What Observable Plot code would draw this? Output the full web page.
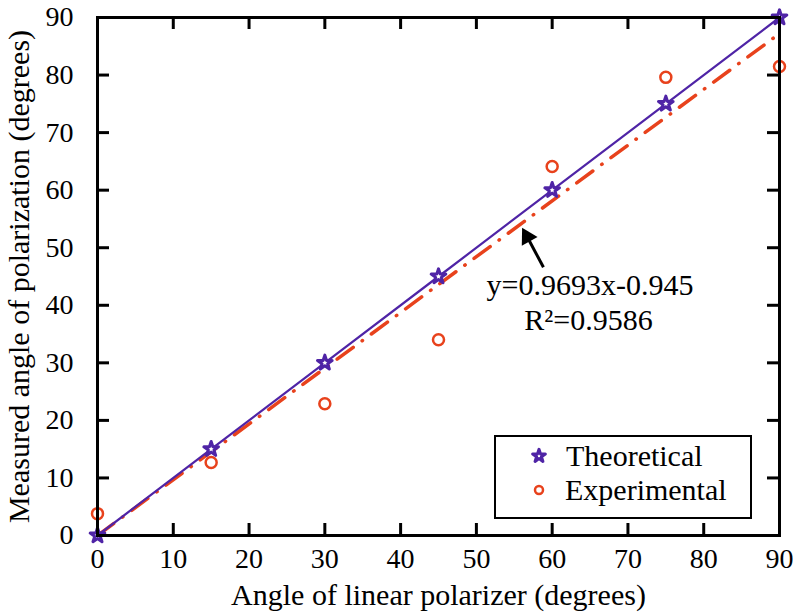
<!DOCTYPE html>
<html><head><meta charset="utf-8">
<script src="https://cdn.jsdelivr.net/npm/d3@7"></script>
<script src="https://cdn.jsdelivr.net/npm/@observablehq/plot@0.6"></script>
<style>
body{margin:0;background:#fff;}
#wrap{position:relative;width:793px;height:615px;}
#wrap svg text{font-family:'Liberation Serif','Times New Roman','DejaVu Serif',serif !important;}
#legend{position:absolute;left:494px;top:435px;width:254px;height:80px;border:2px solid #000;background:#fff;}
</style></head><body><div id="wrap"></div>
<script>
const angles = [0, 15, 30, 45, 60, 75, 90];
const theoretical = [0, 15, 30, 45, 60, 75, 90];
const experimental = [3.8, 12.7, 22.9, 34.0, 64.1, 79.6, 81.5];
const fitX = [0, 90];
const fitY = [0, 87.2];
const xTicks = [0, 10, 20, 30, 40, 50, 60, 70, 80, 90];
const yTicks = [0, 10, 20, 30, 40, 50, 60, 70, 80, 90];
const eqText = ["y=0.9693x-0.945", "R\u00B2=0.9586"];
const eqX = [65.0, 64.8];
const eqY = [43.5, 37.3];
const arrowTail = [58.85, 46.6];
const arrowHead = [56.7, 51.9];
const seriesNames = ["Theoretical", "Experimental"];

const purple = "#4f24a6";
const orange = "#e8421c";
const font = "'Liberation Serif','Times New Roman','DejaVu Serif',serif";

const table = angles.map((a, i) => ({angle: a, theo: theoretical[i], exp: experimental[i]}));
const fit = fitX.map((x, i) => ({x, y: fitY[i]}));
const eq = eqText.map((t, i) => ({t, x: eqX[i], y: eqY[i]}));

const plotW = 793 - 97 - 14, plotH = 615 - 17 - 80;

const chart = Plot.plot({
  width: 793, height: 615,
  marginLeft: 97, marginRight: 14, marginTop: 17, marginBottom: 80,
  x: {domain: [0, 90]},
  y: {domain: [0, 90]},
  style: {color: "#000", background: "#fff"},
  marks: [
    Plot.line(fit, {x: "x", y: "y", stroke: orange, strokeWidth: 3.5, strokeDasharray: "20,11,0.5,11", strokeLinecap: "round", clip: true}),
    Plot.line(table, {x: "angle", y: "theo", stroke: purple, strokeWidth: 2.2}),
    Plot.dot(table, {x: "angle", y: "exp", r: 5.5, stroke: orange, strokeWidth: 2.5, fill: "none"}),
    Plot.dot(table, {x: "angle", y: "theo", symbol: "star", r: 4.6, stroke: purple, strokeWidth: 3, fill: "#fff", strokeLinejoin: "round"}),
    Plot.link([0], {x1: () => arrowTail[0], y1: () => arrowTail[1], x2: () => arrowHead[0], y2: () => arrowHead[1], stroke: "#000", strokeWidth: 3}),
    Plot.dot([0], {x: () => arrowHead[0], y: () => arrowHead[1], symbol: "triangle", r: 6.7, fill: "#000", rotate: -29}),
    Plot.text(eq, {x: "x", y: "y", text: "t", fontSize: 30, textAnchor: "middle", lineAnchor: "middle", fill: "#000"}),
    Plot.tickY(yTicks, {y: d => d, insetRight: plotW - 12, stroke: "#000", strokeWidth: 3}),
    Plot.tickY(yTicks, {y: d => d, insetLeft: plotW - 12, stroke: "#000", strokeWidth: 3}),
    Plot.tickX(xTicks, {x: d => d, insetTop: plotH - 12, stroke: "#000", strokeWidth: 3}),
    Plot.tickX(xTicks, {x: d => d, insetBottom: plotH - 12, stroke: "#000", strokeWidth: 3}),
    Plot.frame({stroke: "#000", strokeWidth: 3}),
    Plot.axisX({ticks: xTicks, tickSize: 0, tickPadding: 13, fontSize: 28, label: null}),
    Plot.axisY({ticks: yTicks, tickSize: 0, tickPadding: 24, fontSize: 28, label: null}),
    Plot.text(["Angle of linear polarizer (degrees)"], {frameAnchor: "bottom", dy: 60, fontSize: 30, lineAnchor: "middle", textAnchor: "middle", fill: "#000"}),
    Plot.text(["Measured angle of polarization (degrees)"], {frameAnchor: "left", dx: -78, rotate: -90, fontSize: 30, lineAnchor: "middle", textAnchor: "middle", fill: "#000"})
  ]
});
const wrap = document.getElementById("wrap");
wrap.appendChild(chart);
chart.querySelectorAll("text").forEach(t => t.setAttribute("font-family", font));
chart.setAttribute("font-family", font);

// legend
const starPath = d3.symbol(d3.symbolStar, Math.PI * 4 * 4)();
const legend = document.createElement("div");
legend.id = "legend";
legend.innerHTML = `<svg width="254" height="80">
  <path d="${starPath}" transform="translate(43,19)" fill="#fff" stroke="${purple}" stroke-width="3" stroke-linejoin="round"></path>
  <text x="70" y="29" font-size="30">${seriesNames[0]}</text>
  <circle cx="43" cy="53" r="4" fill="none" stroke="${orange}" stroke-width="2.5"></circle>
  <text x="69" y="63" font-size="30">${seriesNames[1]}</text>
</svg>`;
wrap.appendChild(legend);
legend.querySelectorAll("text").forEach(t => t.setAttribute("font-family", font));
</script></body></html>
